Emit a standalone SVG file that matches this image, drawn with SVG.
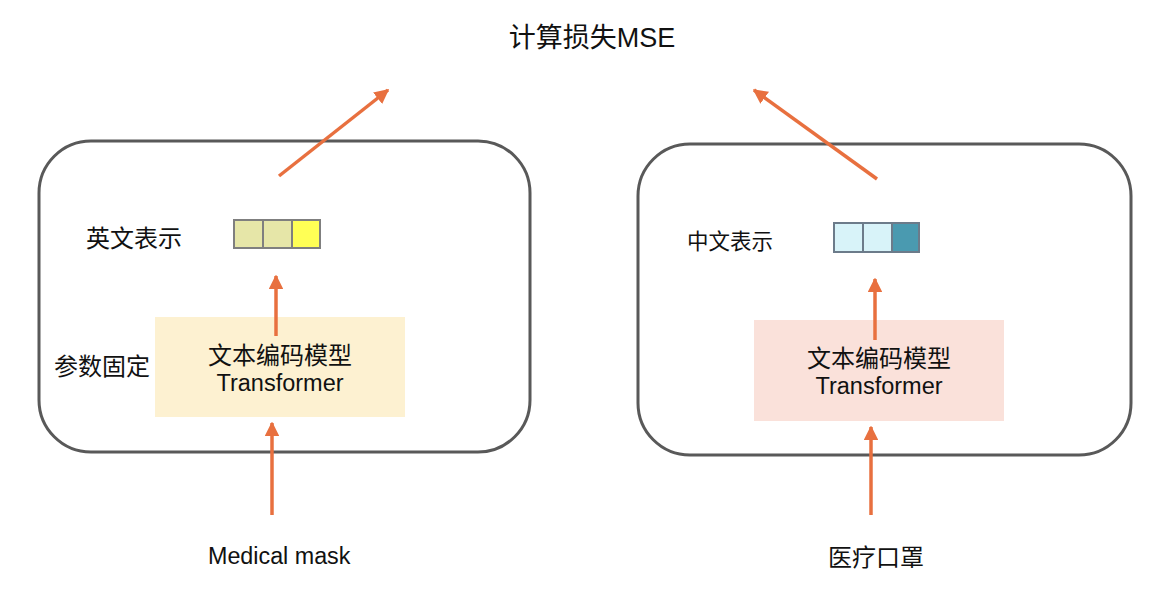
<svg xmlns="http://www.w3.org/2000/svg" width="1164" height="606" viewBox="0 0 1164 606">
<style>
  text { font-family: "Liberation Sans", "Noto Sans CJK SC", sans-serif; fill: #111; }
  .frame { fill: none; stroke: #595959; stroke-width: 3; }
  .conn { stroke: #E8703F; stroke-width: 3.5; fill: none; marker-end: url(#ah); }
  .cellL { stroke: #7f7f7f; stroke-width: 2; }
  .cellR { stroke: #6c7b8a; stroke-width: 2; }
</style>
<defs>
  <marker id="ah" viewBox="0 0 10 10" refX="9" refY="5" markerWidth="4.2" markerHeight="4.2" orient="auto" markerUnits="strokeWidth">
    <path d="M0,0 L10,5 L0,10 Z" fill="#E8703F"/>
  </marker>
</defs>
<rect width="1164" height="606" fill="#ffffff"/>

<g id="title">
  <text x="592" y="47" font-size="27" text-anchor="middle">计算损失MSE</text>
</g>

<g id="left-frame">
  <rect class="frame" x="39" y="141" width="491" height="311" rx="52" ry="52"/>
</g>
<g id="left-encoder">
  <rect x="155" y="317" width="250" height="100" fill="#FDF1D1"/>
  <text x="280" y="364" font-size="24" text-anchor="middle">文本编码模型</text>
  <text x="280" y="391" font-size="23.5" text-anchor="middle">Transformer</text>
</g>
<g id="left-fixed-label">
  <text x="54" y="375" font-size="24">参数固定</text>
</g>
<g id="left-repr">
  <rect class="cellL" x="234" y="220" width="29" height="28" fill="#E6E6A8"/>
  <rect class="cellL" x="263" y="220" width="29" height="28" fill="#E6E6A8"/>
  <rect class="cellL" x="292" y="220" width="28" height="28" fill="#FFFF55"/>
  <text x="86" y="247" font-size="24">英文表示</text>
</g>
<g id="left-input">
  <text x="208" y="564" font-size="23.3">Medical mask</text>
</g>

<g id="right-frame">
  <rect class="frame" x="638" y="144" width="493" height="311" rx="52" ry="52"/>
</g>
<g id="right-encoder">
  <rect x="754" y="320" width="250" height="101" fill="#FAE1DA"/>
  <text x="879" y="367" font-size="24" text-anchor="middle">文本编码模型</text>
  <text x="879" y="394" font-size="23.5" text-anchor="middle">Transformer</text>
</g>
<g id="right-repr">
  <rect class="cellR" x="834" y="223" width="29" height="29" fill="#D8F3F9"/>
  <rect class="cellR" x="863" y="223" width="29" height="29" fill="#D8F3F9"/>
  <rect class="cellR" x="892" y="223" width="27" height="29" fill="#4A9AB0"/>
  <text x="687" y="249" font-size="21.5">中文表示</text>
</g>
<g id="right-input">
  <text x="876" y="566" font-size="24" text-anchor="middle">医疗口罩</text>
</g>

<g id="connectors">
  <line class="conn" x1="272" y1="515" x2="272" y2="423"/>
  <line class="conn" x1="276" y1="336" x2="276" y2="276"/>
  <line class="conn" x1="279" y1="176" x2="388" y2="90"/>
  <line class="conn" x1="871" y1="515" x2="871" y2="427"/>
  <line class="conn" x1="875" y1="340" x2="875" y2="279"/>
  <line class="conn" x1="877" y1="179" x2="754" y2="90"/>
</g>
</svg>
